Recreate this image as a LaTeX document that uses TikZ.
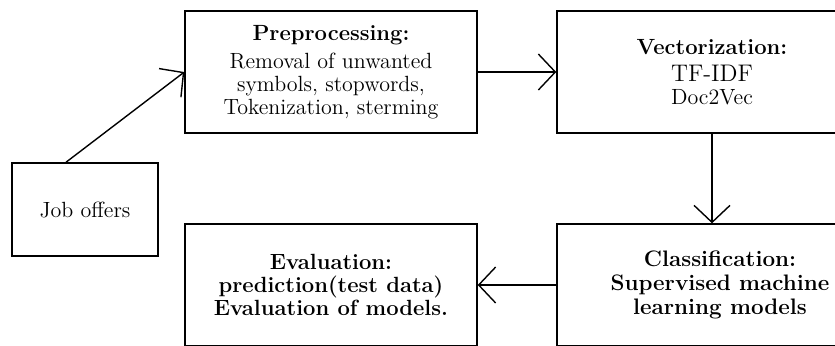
\documentclass[tikz,border=0pt]{standalone}
\usepackage{tikz}
\usetikzlibrary{arrows.meta}
\usetikzlibrary{positioning}

\begin{document}
\begin{tikzpicture}[x=0.5pt, y=-0.5pt, line width=0.7pt,
		>={Straight Barb[length=8.5pt,width=18pt]},
		B/.style = {rectangle, draw, align=center, inner sep=2,
			minimum width=146pt, minimum height=61pt,
			font=\fontsize{11}{11.5}\selectfont}
		]
		\useasboundingbox (0,0) rectangle (835,345);
		\begin{scope}[nodes=B]
			\node[minimum width=73pt, minimum height=46.5pt] (1) at (85,209.5) {Job offers};
			\node (2) at (331,72) {\textbf{Preprocessing:}\\[2.5pt] Removal of unwanted\\ symbols, stopwords,\\ Tokenization, sterming};
			\node[minimum width=155pt] (3) at (712,72) {\textbf{Vectorization:}\\[2pt] {\large TF-IDF}\\ Doc2Vec};
			\node[minimum width=163pt, font=\fontsize{11.2}{12}\selectfont\bfseries] (4) at (720,285) {Classification:\\ Supervised machine\\ learning models};
			\node[font=\fontsize{11}{11.5}\selectfont\bfseries] (5) at (331,285) {Evaluation:\\ prediction(test data)\\ Evaluation of models.};
		\end{scope}
		
		\draw (1.112) edge[->] (2.west);
		\draw (2) edge[->] (3);
		\draw (3) edge[->] (3 |- 4.north);
		\draw (4) edge[->] (5);
	\end{tikzpicture}
\end{document}
